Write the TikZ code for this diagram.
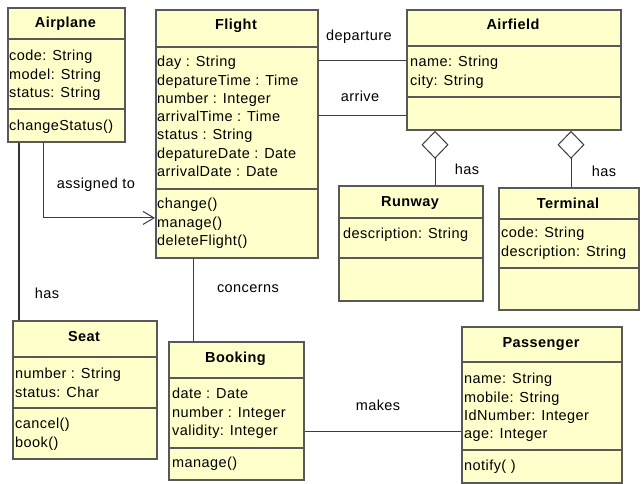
\documentclass[tikz,border=0pt]{standalone}
\usepackage{fontspec}
\setmainfont{Liberation Sans}[LetterSpace=3]
\usepackage{tikz}
\usetikzlibrary{arrows.meta, positioning, calc}
\definecolor{classfill}{RGB}{255,255,204}
\definecolor{classline}{RGB}{88,88,88}
\definecolor{linkline}{RGB}{60,60,60}

\begin{document}
\begin{tikzpicture}[x=1pt, y=-1pt,
  every node/.style={font=\fontsize{14.5}{18.3}\selectfont},
  classbox/.style={draw=classline, fill=classfill, line width=1.8pt, anchor=north west, inner sep=0pt},
  divider/.style={draw=classline, line width=1.6pt},
  classtitle/.style={anchor=base, inner sep=0pt, font=\bfseries\fontsize{14.5}{18.3}\selectfont},
  members/.style={anchor=north west, inner sep=0pt, align=left},
  assoc/.style={draw=linkline, line width=1pt},
  navarrow/.style={assoc, -{Straight Barb[length=11pt, width=13pt]}},
  aggr/.style={assoc, {Diamond[open, length=28pt, width=27pt]}-},
  linklabel/.style={inner sep=1pt},
]
  \useasboundingbox (0,0) rectangle (642,484);

  % Airplane
  \node[classbox, minimum width=117pt, minimum height=134pt] (airplane) at (7,7) {};
  \draw[divider] (7,39) -- (124,39);
  \draw[divider] (7,109) -- (124,109);
  \node[classtitle] (airplane-t) at (65.5,28) {Airplane};
  \node[members] (airplane-a) at (9,50) {code: String\\model: String\\status: String};
  \node[members] (airplane-m) at (9,120) {changeStatus()};

  % Flight
  \node[classbox, minimum width=162pt, minimum height=248pt] (flight) at (155,9) {};
  \draw[divider] (155,47) -- (317,47);
  \draw[divider] (155,189) -- (317,189);
  \node[classtitle] (flight-t) at (236,30) {Flight};
  \node[members] (flight-a) at (157,56) {day : String\\depatureTime : Time\\number : Integer\\arrivalTime : Time\\status : String\\depatureDate : Date\\arrivalDate : Date};
  \node[members] (flight-m) at (157,198) {change()\\manage()\\deleteFlight()};

  % Airfield
  \node[classbox, minimum width=214pt, minimum height=120pt] (airfield) at (406,9) {};
  \draw[divider] (406,46) -- (620,46);
  \draw[divider] (406,97) -- (620,97);
  \node[classtitle] (airfield-t) at (513,30) {Airfield};
  \node[members] (airfield-a) at (410,56) {name: String\\city: String};

  % Runway
  \node[classbox, minimum width=144pt, minimum height=115pt] (runway) at (338,185) {};
  \draw[divider] (338,218) -- (482,218);
  \draw[divider] (338,258) -- (482,258);
  \node[classtitle] (runway-t) at (410,206) {Runway};
  \node[members] (runway-a) at (343,228) {description: String};

  % Terminal
  \node[classbox, minimum width=140pt, minimum height=122pt] (terminal) at (498,187) {};
  \draw[divider] (498,219) -- (638,219);
  \draw[divider] (498,268) -- (638,268);
  \node[classtitle] (terminal-t) at (568,208) {Terminal};
  \node[members] (terminal-a) at (501,227) {code: String\\description: String};

  % Seat
  \node[classbox, minimum width=144pt, minimum height=138pt] (seat) at (12,320) {};
  \draw[divider] (12,357) -- (156,357);
  \draw[divider] (12,408) -- (156,408);
  \node[classtitle] (seat-t) at (84,341) {Seat};
  \node[members] (seat-a) at (15,368) {number : String\\status: Char};
  \node[members] (seat-m) at (15,418) {cancel()\\book()};

  % Booking
  \node[classbox, minimum width=135pt, minimum height=138pt] (booking) at (168,341) {};
  \draw[divider] (168,378) -- (303,378);
  \draw[divider] (168,448) -- (303,448);
  \node[classtitle] (booking-t) at (235.5,362) {Booking};
  \node[members] (booking-a) at (172,388) {date : Date\\number : Integer\\validity: Integer};
  \node[members] (booking-m) at (172,457) {manage()};

  % Passenger
  \node[classbox, minimum width=160pt, minimum height=156pt] (passenger) at (461,326) {};
  \draw[divider] (461,362) -- (621,362);
  \draw[divider] (461,450) -- (621,450);
  \node[classtitle] (passenger-t) at (541,347) {Passenger};
  \node[members] (passenger-a) at (464,373) {name: String\\mobile: String\\IdNumber: Integer\\age: Integer};
  \node[members] (passenger-m) at (464,460) {notify( )};

  % Associations
  \draw[assoc] ([yshift=-52pt]flight.north east) coordinate (dep) -- (dep -| airfield.west);
  \draw[assoc] ([yshift=-107pt]flight.north east) coordinate (arr) -- (arr -| airfield.west);
  \draw[aggr] ([xshift=29pt]airfield.south west) coordinate (agg1) -- (agg1 |- runway.north);
  \draw[aggr] ([xshift=165pt]airfield.south west) coordinate (agg2) -- (agg2 |- terminal.north);
  \draw[assoc, line width=2pt, draw=black!80] ([xshift=12pt]airplane.south west) coordinate (hasseat) -- (hasseat |- seat.north);
  \draw[navarrow] ([xshift=36pt]airplane.south west) |- ([yshift=-84pt]flight.west);
  \draw[assoc] ([xshift=38pt]flight.south west) coordinate (conc) -- (conc |- booking.north);
  \draw[assoc] ([yshift=-21pt]booking.east) coordinate (mk) -- (mk -| passenger.west);

  % Labels
  \node[linklabel] (lbl-dep) at (359,37) {departure};
  \node[linklabel] (lbl-arr) at (360,96) {arrive};
  \node[linklabel] (lbl-has1) at (467,169) {has};
  \node[linklabel] (lbl-has2) at (604,171) {has};
  \node[linklabel] (lbl-asg) at (96,185) {assigned to};
  \node[linklabel] (lbl-has3) at (47,293) {has};
  \node[linklabel] (lbl-conc) at (248,289) {concerns};
  \node[linklabel] (lbl-mk) at (378,405) {makes};
\end{tikzpicture}
\end{document}
